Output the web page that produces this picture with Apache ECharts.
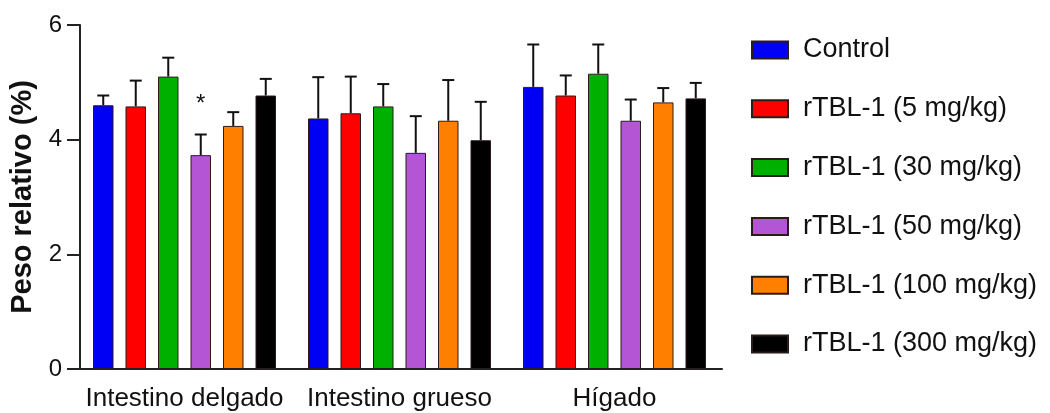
<!DOCTYPE html>
<html lang="es">
<head>
    <meta charset="UTF-8">
    <title>Peso relativo</title>
    <script src="https://cdn.jsdelivr.net/npm/echarts@6/dist/echarts.min.js"></script>
</head>
<body style="margin:0;background:#fff;">
<div id="myChart" style="width: 1050px;height: 413px;"></div>
<script>
    // datos
    var categorias = ['Intestino delgado', 'Intestino grueso', 'Hígado'];
    var grupos = ['Control', 'rTBL-1 (5 mg/kg)', 'rTBL-1 (30 mg/kg)', 'rTBL-1 (50 mg/kg)', 'rTBL-1 (100 mg/kg)', 'rTBL-1 (300 mg/kg)'];
    var colores = ['#0000f5', '#ff0000', '#00b000', '#b455d6', '#ff8000', '#000000'];

    var control = [4.60, 4.37, 4.92];
    var r5 = [4.58, 4.46, 4.77];
    var r30 = [5.10, 4.58, 5.15];
    var r50 = [3.73, 3.77, 4.33];
    var r100 = [4.24, 4.33, 4.65];
    var r300 = [4.77, 3.99, 4.72];

    var controlDE = [0.17, 0.72, 0.74];
    var r5DE = [0.45, 0.64, 0.35];
    var r30DE = [0.33, 0.39, 0.51];
    var r50DE = [0.36, 0.64, 0.37];
    var r100DE = [0.24, 0.71, 0.25];
    var r300DE = [0.29, 0.67, 0.27];

    // marcas de significancia (por grupo, por categoria)
    var signif = [['', '', ''], ['', '', ''], ['', '', ''], ['*', '', ''], ['', '', ''], ['', '', '']];

    var medias = [control, r5, r30, r50, r100, r300];
    var errores = [controlDE, r5DE, r30DE, r50DE, r100DE, r300DE];

    var anchoBarra = 20.5;
    var hueco = 12;
    var fuente = 'Liberation Sans, Arial, sans-serif';

    var myChart = echarts.init(document.getElementById('myChart'));

    var series = [];
    grupos.forEach(function (nombre, i) {
        series.push({
            name: nombre,
            type: 'bar',
            barWidth: anchoBarra,
            barGap: (hueco / anchoBarra * 100) + '%',
            itemStyle: {color: colores[i], borderColor: '#2b1b1b', borderWidth: 1},
            data: medias[i],
            z: 2
        });
    });
    grupos.forEach(function (nombre, i) {
        series.push({
            type: 'custom',
            name: nombre + ' DE',
            data: categorias.map(function (c, j) {
                return [j, medias[i][j], medias[i][j] + errores[i][j]];
            }),
            z: 1,
            renderItem: function (params, api) {
                var base = api.coord([api.value(0), api.value(1)]);
                var tope = api.coord([api.value(0), api.value(2)]);
                var off = (i - 2.5) * (anchoBarra + hueco);
                var x = base[0] + off;
                var cap = 6;
                var hijos = [
                    {type: 'line', shape: {x1: x, y1: base[1], x2: x, y2: tope[1]},
                        style: {stroke: '#111', lineWidth: 2}},
                    {type: 'line', shape: {x1: x - cap, y1: tope[1], x2: x + cap, y2: tope[1]},
                        style: {stroke: '#111', lineWidth: 2}}
                ];
                var marca = signif[i][params.dataIndex];
                if (marca) {
                    hijos.push({type: 'text', style: {text: marca, x: x, y: tope[1] - 30,
                        align: 'center', verticalAlign: 'middle', fontSize: 24, fontFamily: fuente, fill: '#111'}});
                }
                return {type: 'group', children: hijos};
            }
        });
    });

    var option = {
        animation: false,
        grid: {left: 77, top: 25, width: 645, bottom: 44},
        legend: {
            data: grupos,
            orient: 'vertical',
            left: 746,
            top: 30,
            icon: 'rect',
            itemWidth: 36,
            itemHeight: 17,
            itemGap: 28.8,
            textStyle: {fontSize: 27, lineHeight: 30, color: '#111', fontFamily: fuente, padding: [0, 0, 0, 10]}
        },
        xAxis: {
            type: 'category',
            data: categorias,
            axisLine: {lineStyle: {color: '#222', width: 2}},
            axisTick: {alignWithLabel: true, length: 12, lineStyle: {color: '#222', width: 2}},
            axisLabel: {interval: 0, fontSize: 26, color: '#111', fontFamily: fuente, margin: 17}
        },
        yAxis: {
            type: 'value',
            min: 0,
            max: 6,
            interval: 2,
            offset: -3,
            name: 'Peso relativo (%)',
            nameLocation: 'middle',
            nameGap: 36,
            nameTextStyle: {fontSize: 29, fontWeight: 'bold', color: '#111', fontFamily: fuente},
            axisLine: {show: true, lineStyle: {color: '#222', width: 2}},
            axisTick: {show: true, length: 13, lineStyle: {color: '#222', width: 2}},
            axisLabel: {fontSize: 24, color: '#111', fontFamily: fuente, margin: 18},
            splitLine: {show: false}
        },
        series: series
    };

    myChart.setOption(option);
</script>
</body>
</html>
